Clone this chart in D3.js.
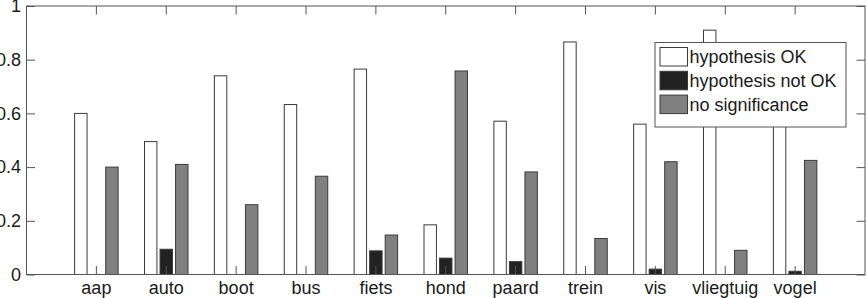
<!DOCTYPE html>
<html>
<head>
<meta charset="utf-8">
<script src="https://cdn.jsdelivr.net/npm/d3@7"></script>
<style>
  body { margin: 0; background: #fff; }
  svg text { font-family: "Liberation Sans", Arial, sans-serif; fill: #1a1a1a; }
</style>
</head>
<body>
<div id="chart"></div>
<script>
var categories = ['aap', 'auto', 'boot', 'bus', 'fiets', 'hond', 'paard', 'trein', 'vis', 'vliegtuig', 'vogel'];
var seriesNames = ['hypothesis OK', 'hypothesis not OK', 'no significance'];
var hypOK    = [0.600, 0.495, 0.740, 0.633, 0.765, 0.185, 0.571, 0.866, 0.560, 0.910, 0.563];
var hypNotOK = [0.000, 0.094, 0.000, 0.000, 0.088, 0.061, 0.048, 0.000, 0.020, 0.000, 0.012];
var noSig    = [0.400, 0.410, 0.260, 0.366, 0.147, 0.758, 0.382, 0.134, 0.420, 0.090, 0.425];
var yTicks = [0, 0.2, 0.4, 0.6, 0.8, 1];

(function(){
  var width = 866, height = 298;
  var mLeft = 26.5, mRight = 865, mTop = 6, mBottom = 274.5;
  var fills = ['#ffffff', '#222222', '#808080'];

  var svg = d3.select('#chart').append('svg')
    .attr('width', width)
    .attr('height', height);

  // scales
  var x0 = d3.scaleBand()
    .domain(categories)
    .range([mLeft, mRight])
    .paddingInner(0)
    .paddingOuter(0.5);

  var groupWidth = x0.step() * 0.667;
  var x1 = d3.scaleBand()
    .domain(seriesNames)
    .range([-groupWidth / 2, groupWidth / 2])
    .paddingInner(0.2)
    .paddingOuter(0.1);

  var y = d3.scaleLinear()
    .domain([0, 1])
    .range([mBottom, mTop]);

  var rows = categories.map(function(c, i){
    return {cat: c, vals: [hypOK[i], hypNotOK[i], noSig[i]]};
  });

  // bars
  var groups = svg.append('g').selectAll('g')
    .data(rows)
    .enter().append('g')
    .attr('transform', function(d){ return 'translate(' + (x0(d.cat) + x0.bandwidth() / 2) + ',0)'; });

  groups.selectAll('rect')
    .data(function(d){
      return d.vals.map(function(v, k){ return {s: seriesNames[k], v: v, k: k}; })
        .filter(function(d){ return d.v > 0; });
    })
    .enter().append('rect')
    .attr('x', function(d){ return x1(d.s); })
    .attr('y', function(d){ return y(d.v); })
    .attr('width', x1.bandwidth())
    .attr('height', function(d){ return y(0) - y(d.v); })
    .attr('fill', function(d){ return fills[d.k]; })
    .attr('stroke', '#3a3a3a')
    .attr('stroke-width', 1);

  // axes box with inward ticks
  var axisColor = '#555';
  var tickLen = 8.5;

  var gx = svg.append('g')
    .attr('transform', 'translate(0,' + mBottom + ')')
    .call(d3.axisBottom(x0).tickSize(-tickLen));
  var gxTop = svg.append('g')
    .attr('transform', 'translate(0,' + mTop + ')')
    .call(d3.axisTop(x0).tickSize(-tickLen).tickFormat(''));
  var gy = svg.append('g')
    .attr('transform', 'translate(' + mLeft + ',0)')
    .call(d3.axisLeft(y).tickValues(yTicks).tickSize(-tickLen).tickPadding(5.5)
      .tickFormat(function(d){ return String(+d.toFixed(1)); }));
  var gyRight = svg.append('g')
    .attr('transform', 'translate(' + mRight + ',0)')
    .call(d3.axisRight(y).tickValues(yTicks).tickSize(-tickLen).tickFormat(''));

  [gx, gxTop, gy, gyRight].forEach(function(g){
    g.select('.domain').remove();
    g.selectAll('line').attr('stroke', axisColor);
    g.selectAll('text')
      .attr('fill', '#1a1a1a')
      .style('font-size', '18px')
      .style('font-family', '"Liberation Sans", Arial, sans-serif');
  });
  gx.selectAll('text').attr('dy', null).attr('y', 19.5);

  svg.append('rect')
    .attr('x', mLeft)
    .attr('y', mTop)
    .attr('width', mRight - mLeft)
    .attr('height', mBottom - mTop)
    .attr('fill', 'none')
    .attr('stroke', axisColor)
    .attr('stroke-width', 1);

  // legend
  var legend = svg.append('g').attr('transform', 'translate(655,42.5)');
  legend.append('rect')
    .attr('width', 191)
    .attr('height', 84.5)
    .attr('fill', '#fff')
    .attr('stroke', '#555');

  var item = legend.selectAll('.item')
    .data(seriesNames)
    .enter().append('g')
    .attr('class', 'item')
    .attr('transform', function(d, i){ return 'translate(5,' + (5 + i * 23.8) + ')'; });

  item.append('rect')
    .attr('width', 27.5)
    .attr('height', 18.5)
    .attr('fill', function(d, i){ return fills[i]; })
    .attr('stroke', '#3a3a3a');

  item.append('text')
    .attr('x', 29.5)
    .attr('y', 9.5)
    .attr('dy', '0.35em')
    .style('font-size', '18px')
    .text(function(d){ return d; });
})();
</script>
</body>
</html>
